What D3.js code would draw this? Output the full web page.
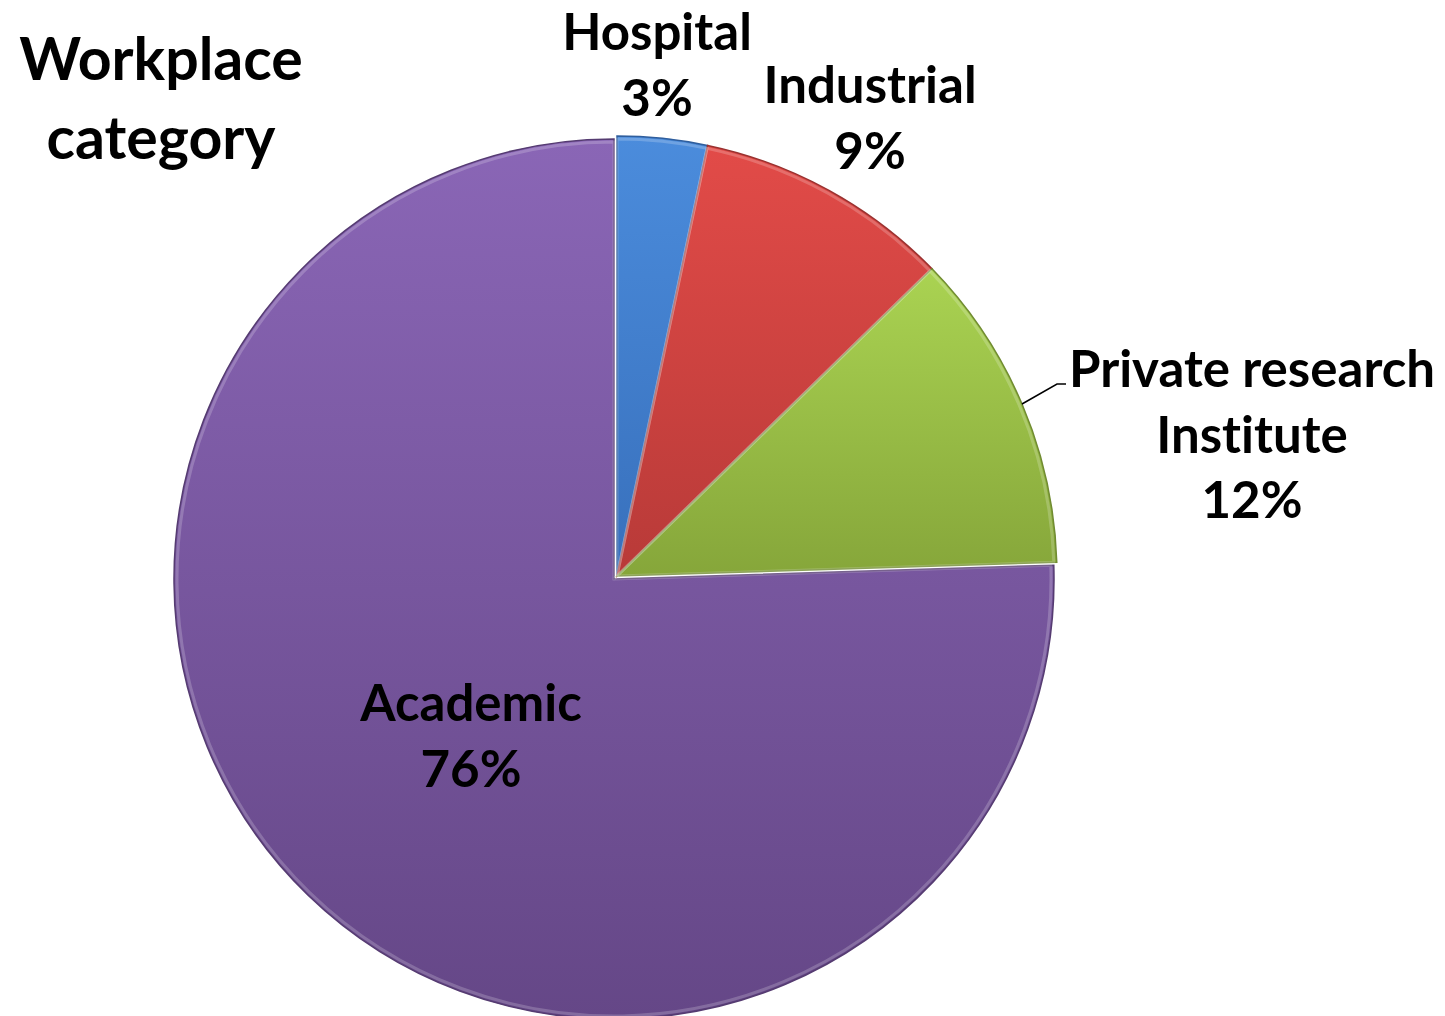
<!DOCTYPE html>
<html>
<head>
<meta charset="utf-8">
<script src="https://cdn.jsdelivr.net/npm/d3@7"></script>
<style>
  body { margin: 0; background: #fff; }
  text { font-family: "Lato", "Open Sans", sans-serif; font-weight: bold; fill: #000; font-variant-ligatures: none; }
</style>
</head>
<body>
<div id="chart"></div>
<script>
// Données
var categories = ["Hospital", "Industrial", "Private research Institute", "Academic"];
var values = [3.3, 9.4, 11.8, 75.5];
var pctLabels = ["3%", "9%", "12%", "76%"];

// couleurs : haut / bas du dégradé de chaque part
var colTop = ["#4b8cdc", "#e24b48", "#aad352", "#8a66b6"];
var colBottom = ["#3870bc", "#b83a38", "#86a63a", "#654787"];

var width = 1445, height = 1016;
var cx = 617, cy = 576, r = 440;

var svg = d3.select("#chart")
            .append("svg")
            .attr("width", width)
            .attr("height", height);

var defs = svg.append("defs");

values.forEach(function(v, i) {
  var g = defs.append("linearGradient")
              .attr("id", "grad" + i)
              .attr("x1", 0).attr("y1", 0)
              .attr("x2", 0).attr("y2", 1);
  g.append("stop").attr("offset", "0%").attr("stop-color", colTop[i]);
  g.append("stop").attr("offset", "100%").attr("stop-color", colBottom[i]);
});

var pie = d3.pie().sort(null).value(function(d){ return d; });
var arcs = pie(values);

var arc = d3.arc().innerRadius(0).outerRadius(r);
var arcBevel = d3.arc().innerRadius(0).outerRadius(r - 3);

var pieGroup = svg.append("g").attr("transform", "translate(" + cx + "," + cy + ")");

pieGroup.selectAll(".slice")
  .data(arcs)
  .enter()
    .append("path")
    .attr("class", "slice")
    .attr("transform", function(d, i){ return i == 3 ? "translate(-3,3)" : null; })
    .attr("d", arc)
    .attr("fill", function(d, i){ return "url(#grad" + i + ")"; })
    .attr("stroke", function(d, i){ return d3.color(colBottom[i]).darker(0.5); })
    .attr("stroke-width", 1.5);

// bord clair (effet biseau)
pieGroup.selectAll(".bevel")
  .data(arcs)
  .enter()
    .append("path")
    .attr("class", "bevel")
    .attr("transform", function(d, i){ return i == 3 ? "translate(-3,3)" : null; })
    .attr("d", arcBevel)
    .attr("fill", "none")
    .attr("stroke", "#fff")
    .attr("stroke-opacity", 0.2)
    .attr("stroke-width", 3);

// Titre
var title = svg.append("text").attr("font-size", 59).attr("text-anchor", "middle");
title.append("tspan").attr("x", 161).attr("y", 80).text("Workplace");
title.append("tspan").attr("x", 161).attr("y", 159).text("category");

// Étiquettes
var labelLines = [
  ["Hospital", pctLabels[0]],
  ["Industrial", pctLabels[1]],
  ["Private research", "Institute", pctLabels[2]],
  ["Academic", pctLabels[3]]
];
var labelPos = [
  {"x": 657, "y": 50},
  {"x": 870, "y": 103},
  {"x": 1252, "y": 387},
  {"x": 471, "y": 721}
];

svg.selectAll(".label")
  .data(labelLines)
  .enter()
    .append("text")
    .attr("class", "label")
    .attr("font-size", 51)
    .attr("text-anchor", "middle")
    .each(function(lines, i) {
      var t = d3.select(this);
      lines.forEach(function(l, j) {
        t.append("tspan")
         .attr("x", labelPos[i].x)
         .attr("y", labelPos[i].y + j * 65.5)
         .text(l);
      });
    });

// trait de rappel pour Private research Institute
svg.append("polyline")
   .attr("points", [[1022, 404], [1057, 384], [1066, 384]].map(function(p){ return p.join(","); }).join(" "))
   .attr("fill", "none")
   .attr("stroke", "#000")
   .attr("stroke-width", 1.5);
</script>
</body>
</html>
